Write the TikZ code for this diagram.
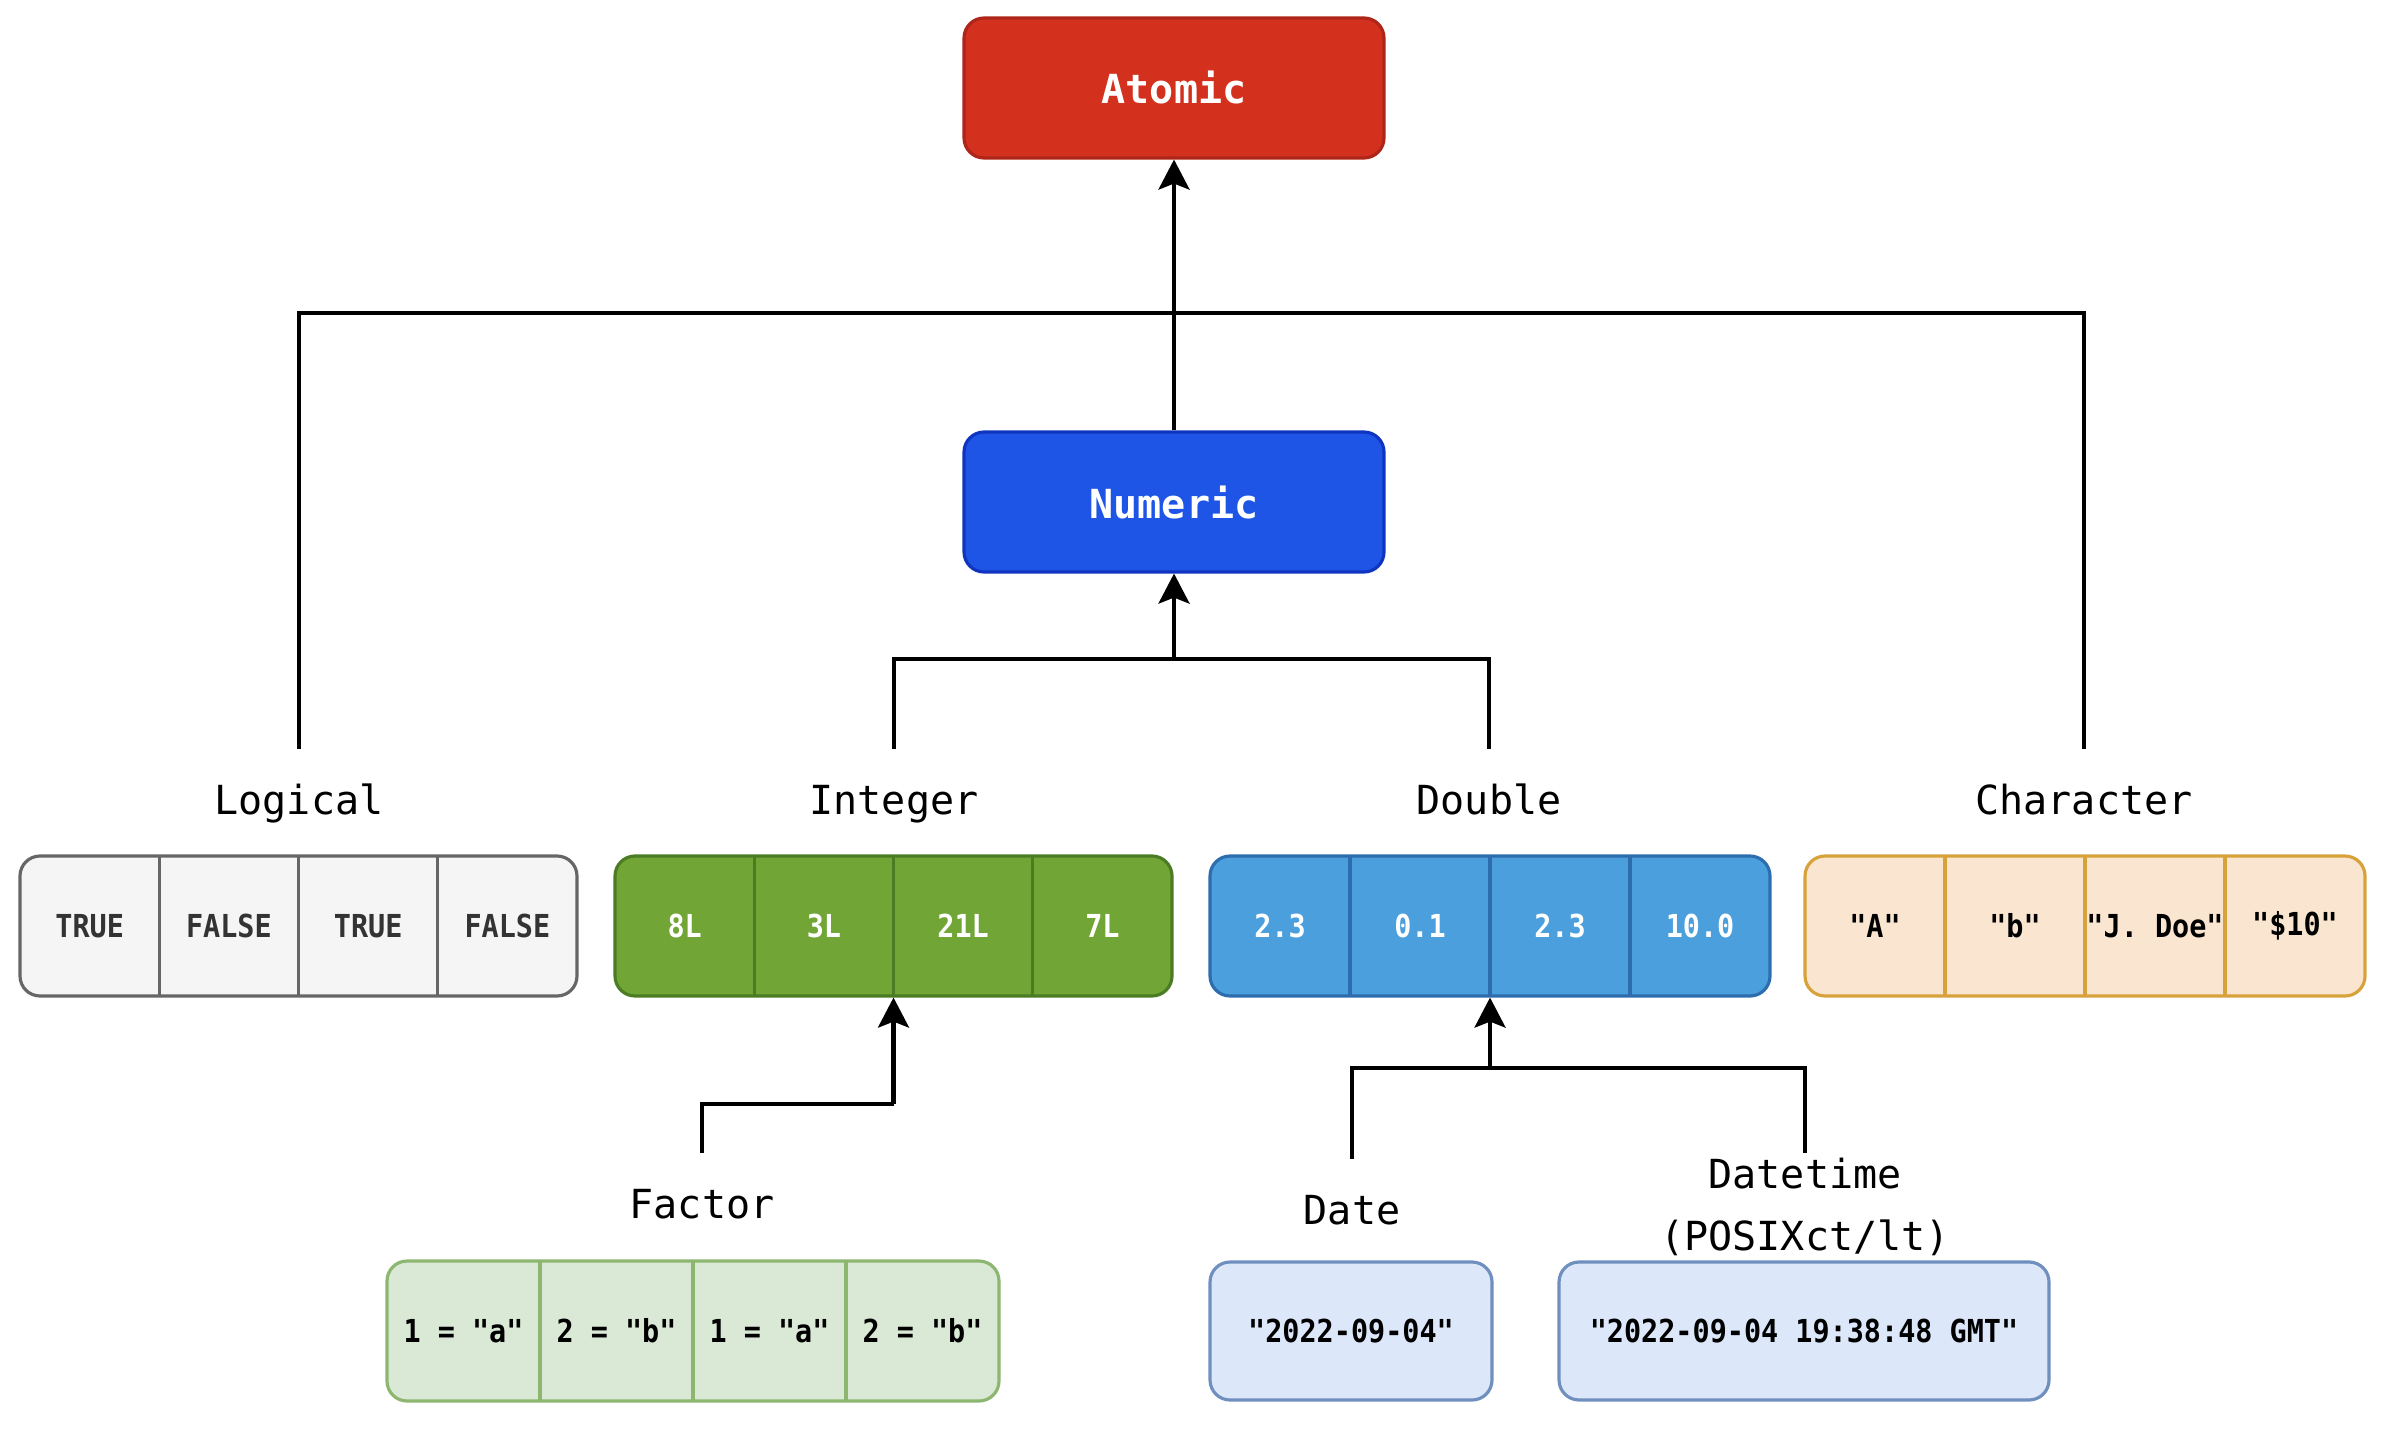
\documentclass[tikz,border=0pt]{standalone}
\usepackage{fontspec}
\setmonofont{DejaVu Sans Mono}
\newfontfamily\cellfont[FakeStretch=0.9]{DejaVu Sans Mono}
\usepackage{xcolor}
\usetikzlibrary{arrows.meta, positioning}

\definecolor{atomfill}{HTML}{D3311E}
\definecolor{atomdraw}{HTML}{AE251A}
\definecolor{numfill}{HTML}{1E55E6}
\definecolor{numdraw}{HTML}{0F35C0}
\definecolor{lgcfill}{HTML}{F5F5F5}
\definecolor{lgcdraw}{HTML}{666666}
\definecolor{lgctext}{HTML}{333333}
\definecolor{intfill}{HTML}{71A637}
\definecolor{intdraw}{HTML}{4B7B23}
\definecolor{dblfill}{HTML}{4A9FDC}
\definecolor{dbldraw}{HTML}{2E6DAD}
\definecolor{chrfill}{HTML}{FAE6D0}
\definecolor{chrdraw}{HTML}{D7A23A}
\definecolor{fctfill}{HTML}{DAE8D6}
\definecolor{fctdraw}{HTML}{8DB670}
\definecolor{datefill}{HTML}{DCE7FA}
\definecolor{datedraw}{HTML}{6F8FBF}

\begin{document}
\begin{tikzpicture}[x=0.1mm, y=-0.1mm,
					>={Stealth[length=3mm, width=3.1mm, inset=0.6mm]},
					line width=1.15pt,
					box/.style={rectangle, rounded corners=2mm, minimum width=42mm, minimum height=14mm,
						line width=0.9pt, text=white, font=\ttfamily\bfseries\fontsize{11.4}{13}\selectfont},
					rowbox/.style={rectangle, rounded corners=2mm, minimum height=14mm, line width=0.9pt, inner sep=0pt},
					celltext/.style={font=\cellfont\bfseries\fontsize{9}{10}\selectfont},
					cellline/.style={line width=0.9pt},
					lbl/.style={font=\ttfamily\fontsize{11.4}{13}\selectfont, text height=1.55ex, text depth=0.45ex,
						inner xsep=1mm, inner ysep=4mm}]

	\useasboundingbox (0,0) rectangle (2392,1434);

	% top of the tree
	\node[box, fill=atomfill, draw=atomdraw] (atomic) at (1174,88) {Atomic};
	\node[box, fill=numfill, draw=numdraw] (numeric) at (1174,502) {Numeric};

	% labels
	\node[lbl] (lgclbl) at (299,806) {Logical};
	\node[lbl] (intlbl) at (894,806) {Integer};
	\node[lbl] (dbllbl) at (1489,806) {Double};
	\node[lbl] (chrlbl) at (2084,806) {Character};
	\node[lbl] (fctlbl) at (702,1210) {Factor};
	\node[lbl] (datelbl) at (1352,1216) {Date};
	\node[lbl, align=center, text height=, text depth=, inner ysep=0.3mm,
		font=\ttfamily\fontsize{11.4}{17.5}\selectfont] (dtmlbl) at (1805,1207) {Datetime\\(POSIXct/lt)};

	% logical
	\node[rowbox, minimum width=55.7mm, fill=lgcfill, draw=lgcdraw] (lgc) at (298.5,926) {};
	\foreach \t [count=\i] in {TRUE,FALSE,TRUE,FALSE}
		\node[celltext, text=lgctext] at (20+139.25*\i-69.6,926) {\t};
	\foreach \i in {1,2,3}
		\draw[cellline, lgcdraw] (20+139.25*\i,856) -- (20+139.25*\i,996);

	% integer
	\node[rowbox, minimum width=55.7mm, fill=intfill, draw=intdraw] (int) at (893.5,926) {};
	\foreach \t [count=\i] in {8L,3L,21L,7L}
		\node[celltext, text=white] at (615+139.25*\i-69.6,926) {\t};
	\foreach \i in {1,2,3}
		\draw[cellline, intdraw] (615+139.25*\i,856) -- (615+139.25*\i,996);

	% double
	\node[rowbox, minimum width=56mm, fill=dblfill, draw=dbldraw] (dbl) at (1490,926) {};
	\foreach \t [count=\i] in {2.3,0.1,2.3,10.0}
		\node[celltext, text=white] at (1210+140*\i-70,926) {\t};
	\foreach \i in {1,2,3}
		\draw[cellline, dbldraw] (1210+140*\i,856) -- (1210+140*\i,996);

	% character
	\node[rowbox, minimum width=56mm, fill=chrfill, draw=chrdraw] (chr) at (2085,926) {};
	\foreach \t [count=\i] in {"A","b","J. Doe","\$10"}
		\node[celltext, text=black] at (1805+140*\i-70,926) {\t};
	\foreach \i in {1,2,3}
		\draw[cellline, chrdraw] (1805+140*\i,856) -- (1805+140*\i,996);

	% factor
	\node[rowbox, minimum width=61.2mm, fill=fctfill, draw=fctdraw] (fct) at (693,1331) {};
	\foreach \t [count=\i] in {1 = "a",2 = "b",1 = "a",2 = "b"}
		\node[celltext, text=black] at (387+153*\i-76.5,1331) {\t};
	\foreach \i in {1,2,3}
		\draw[cellline, fctdraw] (387+153*\i,1262) -- (387+153*\i,1400);

	% date and datetime
	\node[rowbox, minimum width=28.2mm, minimum height=13.8mm, fill=datefill, draw=datedraw, celltext] (date) at (1351,1331) {"2022-09-04"};
	\node[rowbox, minimum width=49mm, minimum height=13.8mm, fill=datefill, draw=datedraw, celltext] (dtm) at (1804,1331) {"2022-09-04 19:38:48 GMT"};

	% connectors
	\coordinate (junc) at (1174,313);
	\draw (lgclbl.north) |- (junc);
	\draw (chrlbl.north) |- (junc);
	\draw[->] (numeric.north) -- (atomic.south);

	\coordinate (numjunc) at (1174,659);
	\draw (intlbl.north) |- (numjunc) -| (dbllbl.north);
	\draw[->] (numjunc) -- (numeric.south);

	\coordinate (fctjunc) at (int.south |- 0,1104);
	\draw (fctlbl.north) |- (fctjunc);
	\draw[->] (fctjunc) -- (int.south);

	\coordinate (datejunc) at (dbl.south |- 0,1068);
	\draw (datelbl.north) |- (datejunc) -| (dtmlbl.north);
	\draw[->] (datejunc) -- (dbl.south);
\end{tikzpicture}
\end{document}
